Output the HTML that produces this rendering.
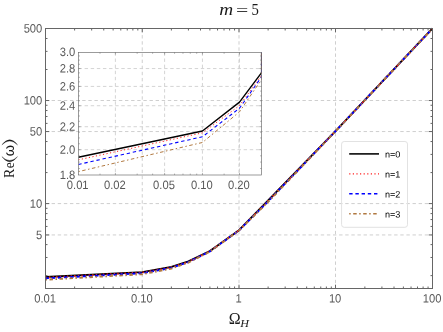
<!DOCTYPE html>
<html><head><meta charset="utf-8"><title>plot</title><style>html,body{margin:0;padding:0;background:#fff;overflow:hidden}body{width:443px;height:332px;position:relative}</style></head><body>
<svg width="443" height="332" viewBox="0 0 443 332" style="position:absolute;left:0;top:0;will-change:transform">
<rect width="443" height="332" fill="#fff"/>
<g stroke="#cfcfcf" stroke-width="1" stroke-dasharray="3.4 2.717" fill="none">
<line x1="142.25" y1="29.0" x2="142.25" y2="288.5"/>
<line x1="239.00" y1="29.0" x2="239.00" y2="288.5"/>
<line x1="335.50" y1="29.0" x2="335.50" y2="288.5"/>
<line x1="45.5" y1="234.95" x2="432.5" y2="234.95"/>
<line x1="45.5" y1="203.59" x2="432.5" y2="203.59"/>
<line x1="45.5" y1="131.56" x2="432.5" y2="131.56"/>
<line x1="45.5" y1="100.53" x2="432.5" y2="100.53"/>
</g>
<g stroke="#cfcfcf" stroke-width="0.9" stroke-dasharray="3.4 2.717" fill="none">
<line x1="115.40" y1="52.4" x2="115.40" y2="175.0"/>
<line x1="164.60" y1="52.4" x2="164.60" y2="175.0"/>
<line x1="202.45" y1="52.4" x2="202.45" y2="175.0"/>
<line x1="239.50" y1="52.4" x2="239.50" y2="175.0"/>
<line x1="78.5" y1="149.70" x2="261.5" y2="149.70"/>
<line x1="78.5" y1="126.71" x2="261.5" y2="126.71"/>
<line x1="78.5" y1="105.72" x2="261.5" y2="105.72"/>
<line x1="78.5" y1="86.42" x2="261.5" y2="86.42"/>
<line x1="78.5" y1="68.54" x2="261.5" y2="68.54"/>
</g>
<clipPath id="cm"><rect x="45.5" y="27.5" width="387.5" height="261.0"/></clipPath>
<g clip-path="url(#cm)" fill="none" stroke-linejoin="round">
<polyline points="45.50,277.02 142.25,272.16 171.37,266.79 188.41,261.34 209.88,250.96 239.00,230.19 268.12,200.35 335.50,131.11 432.50,28.50" stroke="#000000" stroke-width="1.85"/>
<polyline points="45.50,277.51 142.25,272.49 171.37,267.43 188.41,261.83 209.88,251.22 239.00,230.27 268.12,200.90 335.50,131.20 432.50,28.50" stroke="#ff2020" stroke-width="1.85" stroke-dasharray="1.2 2.4"/>
<polyline points="45.50,278.36 142.25,273.23 171.37,267.93 188.41,262.11 209.88,251.48 239.00,230.35 268.12,201.41 335.50,131.20 432.50,28.50" stroke="#0000ff" stroke-width="1.85" stroke-dasharray="3.4 2.8"/>
<polyline points="45.50,279.70 142.25,274.28 171.37,268.60 188.41,262.58 209.88,251.74 239.00,230.43 268.12,201.92 335.50,131.29 432.50,28.50" stroke="#b07840" stroke-width="1.85" stroke-dasharray="1.5 2.5 3.5 2.5"/>
</g>
<clipPath id="ci"><rect x="78.5" y="52.4" width="183.0" height="122.6"/></clipPath>
<g clip-path="url(#ci)" fill="none" stroke-linejoin="round">
<polyline points="78.30,157.24 202.45,131.02 239.50,102.10 261.60,72.71 261.60,16.80" stroke="#000000" stroke-width="1.4"/>
<polyline points="78.30,159.85 202.45,132.83 239.50,105.55 261.60,75.36 261.60,18.19" stroke="#ff2020" stroke-width="1.0" stroke-dasharray="1.2 2.4"/>
<polyline points="78.30,164.46 202.45,136.77 239.50,108.25 261.60,76.87 261.60,19.59" stroke="#0000ff" stroke-width="1.1" stroke-dasharray="3.4 2.8"/>
<polyline points="78.30,171.65 202.45,142.47 239.50,111.83 261.60,79.38 261.60,21.00" stroke="#b07840" stroke-width="1.0" stroke-dasharray="1.5 2.5 3.5 2.5"/>
</g>
<g stroke="#666666" stroke-width="1" fill="none">
<rect x="45.5" y="28.5" width="387.0" height="260.0"/>
<line x1="74.62" y1="288.5" x2="74.62" y2="286.5"/>
<line x1="74.62" y1="28.5" x2="74.62" y2="30.5"/>
<line x1="91.66" y1="288.5" x2="91.66" y2="286.5"/>
<line x1="91.66" y1="28.5" x2="91.66" y2="30.5"/>
<line x1="103.75" y1="288.5" x2="103.75" y2="286.5"/>
<line x1="103.75" y1="28.5" x2="103.75" y2="30.5"/>
<line x1="113.13" y1="288.5" x2="113.13" y2="286.5"/>
<line x1="113.13" y1="28.5" x2="113.13" y2="30.5"/>
<line x1="120.79" y1="288.5" x2="120.79" y2="286.5"/>
<line x1="120.79" y1="28.5" x2="120.79" y2="30.5"/>
<line x1="127.26" y1="288.5" x2="127.26" y2="286.5"/>
<line x1="127.26" y1="28.5" x2="127.26" y2="30.5"/>
<line x1="132.87" y1="288.5" x2="132.87" y2="286.5"/>
<line x1="132.87" y1="28.5" x2="132.87" y2="30.5"/>
<line x1="137.82" y1="288.5" x2="137.82" y2="286.5"/>
<line x1="137.82" y1="28.5" x2="137.82" y2="30.5"/>
<line x1="142.25" y1="288.5" x2="142.25" y2="284.7"/>
<line x1="142.25" y1="28.5" x2="142.25" y2="32.3"/>
<line x1="171.37" y1="288.5" x2="171.37" y2="286.5"/>
<line x1="171.37" y1="28.5" x2="171.37" y2="30.5"/>
<line x1="188.41" y1="288.5" x2="188.41" y2="286.5"/>
<line x1="188.41" y1="28.5" x2="188.41" y2="30.5"/>
<line x1="200.50" y1="288.5" x2="200.50" y2="286.5"/>
<line x1="200.50" y1="28.5" x2="200.50" y2="30.5"/>
<line x1="209.88" y1="288.5" x2="209.88" y2="286.5"/>
<line x1="209.88" y1="28.5" x2="209.88" y2="30.5"/>
<line x1="217.54" y1="288.5" x2="217.54" y2="286.5"/>
<line x1="217.54" y1="28.5" x2="217.54" y2="30.5"/>
<line x1="224.01" y1="288.5" x2="224.01" y2="286.5"/>
<line x1="224.01" y1="28.5" x2="224.01" y2="30.5"/>
<line x1="229.62" y1="288.5" x2="229.62" y2="286.5"/>
<line x1="229.62" y1="28.5" x2="229.62" y2="30.5"/>
<line x1="234.57" y1="288.5" x2="234.57" y2="286.5"/>
<line x1="234.57" y1="28.5" x2="234.57" y2="30.5"/>
<line x1="239.00" y1="288.5" x2="239.00" y2="284.7"/>
<line x1="239.00" y1="28.5" x2="239.00" y2="32.3"/>
<line x1="268.12" y1="288.5" x2="268.12" y2="286.5"/>
<line x1="268.12" y1="28.5" x2="268.12" y2="30.5"/>
<line x1="285.16" y1="288.5" x2="285.16" y2="286.5"/>
<line x1="285.16" y1="28.5" x2="285.16" y2="30.5"/>
<line x1="297.25" y1="288.5" x2="297.25" y2="286.5"/>
<line x1="297.25" y1="28.5" x2="297.25" y2="30.5"/>
<line x1="306.63" y1="288.5" x2="306.63" y2="286.5"/>
<line x1="306.63" y1="28.5" x2="306.63" y2="30.5"/>
<line x1="314.29" y1="288.5" x2="314.29" y2="286.5"/>
<line x1="314.29" y1="28.5" x2="314.29" y2="30.5"/>
<line x1="320.76" y1="288.5" x2="320.76" y2="286.5"/>
<line x1="320.76" y1="28.5" x2="320.76" y2="30.5"/>
<line x1="326.37" y1="288.5" x2="326.37" y2="286.5"/>
<line x1="326.37" y1="28.5" x2="326.37" y2="30.5"/>
<line x1="331.32" y1="288.5" x2="331.32" y2="286.5"/>
<line x1="331.32" y1="28.5" x2="331.32" y2="30.5"/>
<line x1="335.50" y1="288.5" x2="335.50" y2="284.7"/>
<line x1="335.50" y1="28.5" x2="335.50" y2="32.3"/>
<line x1="364.87" y1="288.5" x2="364.87" y2="286.5"/>
<line x1="364.87" y1="28.5" x2="364.87" y2="30.5"/>
<line x1="381.91" y1="288.5" x2="381.91" y2="286.5"/>
<line x1="381.91" y1="28.5" x2="381.91" y2="30.5"/>
<line x1="394.00" y1="288.5" x2="394.00" y2="286.5"/>
<line x1="394.00" y1="28.5" x2="394.00" y2="30.5"/>
<line x1="403.38" y1="288.5" x2="403.38" y2="286.5"/>
<line x1="403.38" y1="28.5" x2="403.38" y2="30.5"/>
<line x1="411.04" y1="288.5" x2="411.04" y2="286.5"/>
<line x1="411.04" y1="28.5" x2="411.04" y2="30.5"/>
<line x1="417.51" y1="288.5" x2="417.51" y2="286.5"/>
<line x1="417.51" y1="28.5" x2="417.51" y2="30.5"/>
<line x1="423.12" y1="288.5" x2="423.12" y2="286.5"/>
<line x1="423.12" y1="28.5" x2="423.12" y2="30.5"/>
<line x1="428.07" y1="288.5" x2="428.07" y2="286.5"/>
<line x1="428.07" y1="28.5" x2="428.07" y2="30.5"/>
<line x1="45.5" y1="275.62" x2="47.5" y2="275.62"/>
<line x1="432.5" y1="275.62" x2="430.5" y2="275.62"/>
<line x1="45.5" y1="257.48" x2="47.5" y2="257.48"/>
<line x1="432.5" y1="257.48" x2="430.5" y2="257.48"/>
<line x1="45.5" y1="244.60" x2="47.5" y2="244.60"/>
<line x1="432.5" y1="244.60" x2="430.5" y2="244.60"/>
<line x1="45.5" y1="234.95" x2="49.3" y2="234.95"/>
<line x1="432.5" y1="234.95" x2="428.7" y2="234.95"/>
<line x1="45.5" y1="226.45" x2="47.5" y2="226.45"/>
<line x1="432.5" y1="226.45" x2="430.5" y2="226.45"/>
<line x1="45.5" y1="219.55" x2="47.5" y2="219.55"/>
<line x1="432.5" y1="219.55" x2="430.5" y2="219.55"/>
<line x1="45.5" y1="213.58" x2="47.5" y2="213.58"/>
<line x1="432.5" y1="213.58" x2="430.5" y2="213.58"/>
<line x1="45.5" y1="208.31" x2="47.5" y2="208.31"/>
<line x1="432.5" y1="208.31" x2="430.5" y2="208.31"/>
<line x1="45.5" y1="203.59" x2="49.3" y2="203.59"/>
<line x1="432.5" y1="203.59" x2="428.7" y2="203.59"/>
<line x1="45.5" y1="172.57" x2="47.5" y2="172.57"/>
<line x1="432.5" y1="172.57" x2="430.5" y2="172.57"/>
<line x1="45.5" y1="154.42" x2="47.5" y2="154.42"/>
<line x1="432.5" y1="154.42" x2="430.5" y2="154.42"/>
<line x1="45.5" y1="141.54" x2="47.5" y2="141.54"/>
<line x1="432.5" y1="141.54" x2="430.5" y2="141.54"/>
<line x1="45.5" y1="131.56" x2="49.3" y2="131.56"/>
<line x1="432.5" y1="131.56" x2="428.7" y2="131.56"/>
<line x1="45.5" y1="123.40" x2="47.5" y2="123.40"/>
<line x1="432.5" y1="123.40" x2="430.5" y2="123.40"/>
<line x1="45.5" y1="116.50" x2="47.5" y2="116.50"/>
<line x1="432.5" y1="116.50" x2="430.5" y2="116.50"/>
<line x1="45.5" y1="110.52" x2="47.5" y2="110.52"/>
<line x1="432.5" y1="110.52" x2="430.5" y2="110.52"/>
<line x1="45.5" y1="105.25" x2="47.5" y2="105.25"/>
<line x1="432.5" y1="105.25" x2="430.5" y2="105.25"/>
<line x1="45.5" y1="100.53" x2="49.3" y2="100.53"/>
<line x1="432.5" y1="100.53" x2="428.7" y2="100.53"/>
<line x1="45.5" y1="69.51" x2="47.5" y2="69.51"/>
<line x1="432.5" y1="69.51" x2="430.5" y2="69.51"/>
<line x1="45.5" y1="51.36" x2="47.5" y2="51.36"/>
<line x1="432.5" y1="51.36" x2="430.5" y2="51.36"/>
<line x1="45.5" y1="38.49" x2="47.5" y2="38.49"/>
<line x1="432.5" y1="38.49" x2="430.5" y2="38.49"/>
</g>
<g stroke="#666666" stroke-width="0.65" fill="none">
<rect x="78.5" y="52.4" width="183.0" height="122.6"/>
</g>
<g stroke="#666666" stroke-width="0.5" fill="none">
<line x1="100.00" y1="175.0" x2="100.00" y2="173.6"/>
<line x1="100.00" y1="52.4" x2="100.00" y2="53.8"/>
<line x1="115.40" y1="175.0" x2="115.40" y2="172.9"/>
<line x1="115.40" y1="52.4" x2="115.40" y2="54.5"/>
<line x1="137.17" y1="175.0" x2="137.17" y2="173.6"/>
<line x1="137.17" y1="52.4" x2="137.17" y2="53.8"/>
<line x1="152.62" y1="175.0" x2="152.62" y2="173.6"/>
<line x1="152.62" y1="52.4" x2="152.62" y2="53.8"/>
<line x1="164.60" y1="175.0" x2="164.60" y2="172.9"/>
<line x1="164.60" y1="52.4" x2="164.60" y2="54.5"/>
<line x1="174.56" y1="175.0" x2="174.56" y2="173.6"/>
<line x1="174.56" y1="52.4" x2="174.56" y2="53.8"/>
<line x1="182.97" y1="175.0" x2="182.97" y2="173.6"/>
<line x1="182.97" y1="52.4" x2="182.97" y2="53.8"/>
<line x1="190.27" y1="175.0" x2="190.27" y2="173.6"/>
<line x1="190.27" y1="52.4" x2="190.27" y2="53.8"/>
<line x1="196.70" y1="175.0" x2="196.70" y2="173.6"/>
<line x1="196.70" y1="52.4" x2="196.70" y2="53.8"/>
<line x1="202.45" y1="175.0" x2="202.45" y2="172.9"/>
<line x1="202.45" y1="52.4" x2="202.45" y2="54.5"/>
<line x1="224.12" y1="175.0" x2="224.12" y2="173.6"/>
<line x1="224.12" y1="52.4" x2="224.12" y2="53.8"/>
<line x1="239.50" y1="175.0" x2="239.50" y2="172.9"/>
<line x1="239.50" y1="52.4" x2="239.50" y2="54.5"/>
<line x1="78.5" y1="168.50" x2="79.9" y2="168.50"/>
<line x1="261.5" y1="168.50" x2="260.1" y2="168.50"/>
<line x1="78.5" y1="162.07" x2="79.9" y2="162.07"/>
<line x1="261.5" y1="162.07" x2="260.1" y2="162.07"/>
<line x1="78.5" y1="155.80" x2="79.9" y2="155.80"/>
<line x1="261.5" y1="155.80" x2="260.1" y2="155.80"/>
<line x1="78.5" y1="149.70" x2="80.6" y2="149.70"/>
<line x1="261.5" y1="149.70" x2="259.4" y2="149.70"/>
<line x1="78.5" y1="143.74" x2="79.9" y2="143.74"/>
<line x1="261.5" y1="143.74" x2="260.1" y2="143.74"/>
<line x1="78.5" y1="137.93" x2="79.9" y2="137.93"/>
<line x1="261.5" y1="137.93" x2="260.1" y2="137.93"/>
<line x1="78.5" y1="132.25" x2="79.9" y2="132.25"/>
<line x1="261.5" y1="132.25" x2="260.1" y2="132.25"/>
<line x1="78.5" y1="126.71" x2="80.6" y2="126.71"/>
<line x1="261.5" y1="126.71" x2="259.4" y2="126.71"/>
<line x1="78.5" y1="121.29" x2="79.9" y2="121.29"/>
<line x1="261.5" y1="121.29" x2="260.1" y2="121.29"/>
<line x1="78.5" y1="115.99" x2="79.9" y2="115.99"/>
<line x1="261.5" y1="115.99" x2="260.1" y2="115.99"/>
<line x1="78.5" y1="110.80" x2="79.9" y2="110.80"/>
<line x1="261.5" y1="110.80" x2="260.1" y2="110.80"/>
<line x1="78.5" y1="105.72" x2="80.6" y2="105.72"/>
<line x1="261.5" y1="105.72" x2="259.4" y2="105.72"/>
<line x1="78.5" y1="100.75" x2="79.9" y2="100.75"/>
<line x1="261.5" y1="100.75" x2="260.1" y2="100.75"/>
<line x1="78.5" y1="95.88" x2="79.9" y2="95.88"/>
<line x1="261.5" y1="95.88" x2="260.1" y2="95.88"/>
<line x1="78.5" y1="91.10" x2="79.9" y2="91.10"/>
<line x1="261.5" y1="91.10" x2="260.1" y2="91.10"/>
<line x1="78.5" y1="86.42" x2="80.6" y2="86.42"/>
<line x1="261.5" y1="86.42" x2="259.4" y2="86.42"/>
<line x1="78.5" y1="81.82" x2="79.9" y2="81.82"/>
<line x1="261.5" y1="81.82" x2="260.1" y2="81.82"/>
<line x1="78.5" y1="77.31" x2="79.9" y2="77.31"/>
<line x1="261.5" y1="77.31" x2="260.1" y2="77.31"/>
<line x1="78.5" y1="72.89" x2="79.9" y2="72.89"/>
<line x1="261.5" y1="72.89" x2="260.1" y2="72.89"/>
<line x1="78.5" y1="68.54" x2="80.6" y2="68.54"/>
<line x1="261.5" y1="68.54" x2="259.4" y2="68.54"/>
<line x1="78.5" y1="64.27" x2="79.9" y2="64.27"/>
<line x1="261.5" y1="64.27" x2="260.1" y2="64.27"/>
<line x1="78.5" y1="60.08" x2="79.9" y2="60.08"/>
<line x1="261.5" y1="60.08" x2="260.1" y2="60.08"/>
<line x1="78.5" y1="55.95" x2="79.9" y2="55.95"/>
<line x1="261.5" y1="55.95" x2="260.1" y2="55.95"/>
</g>
<g font-family="Liberation Sans, sans-serif" font-size="12.1" fill="#585858" text-rendering="geometricPrecision">
<text transform="translate(45.10,302.50) scale(0.925,1) rotate(0.05)" text-anchor="middle">0.01</text>
<text transform="translate(141.85,302.50) scale(0.925,1) rotate(0.05)" text-anchor="middle">0.10</text>
<text transform="translate(238.60,302.50) scale(0.925,1) rotate(0.05)" text-anchor="middle">1</text>
<text transform="translate(335.10,302.50) scale(0.925,1) rotate(0.05)" text-anchor="middle">10</text>
<text transform="translate(432.10,302.50) scale(0.925,1) rotate(0.05)" text-anchor="middle">100</text>
<text transform="translate(42.30,239.00) scale(0.925,1) rotate(0.05)" text-anchor="end">5</text>
<text transform="translate(42.30,207.64) scale(0.925,1) rotate(0.05)" text-anchor="end">10</text>
<text transform="translate(42.30,135.61) scale(0.925,1) rotate(0.05)" text-anchor="end">50</text>
<text transform="translate(42.30,104.58) scale(0.925,1) rotate(0.05)" text-anchor="end">100</text>
<text transform="translate(42.30,32.55) scale(0.925,1) rotate(0.05)" text-anchor="end">500</text>
<text transform="translate(77.70,189.10) scale(0.925,1) rotate(0.05)" text-anchor="middle">0.01</text>
<text transform="translate(114.80,189.10) scale(0.925,1) rotate(0.05)" text-anchor="middle">0.02</text>
<text transform="translate(164.00,189.10) scale(0.925,1) rotate(0.05)" text-anchor="middle">0.05</text>
<text transform="translate(201.85,189.10) scale(0.925,1) rotate(0.05)" text-anchor="middle">0.10</text>
<text transform="translate(238.90,189.10) scale(0.925,1) rotate(0.05)" text-anchor="middle">0.20</text>
<text transform="translate(75.30,179.11) scale(0.925,1) rotate(0.05)" text-anchor="end">1.8</text>
<text transform="translate(75.30,153.70) scale(0.925,1) rotate(0.05)" text-anchor="end">2.0</text>
<text transform="translate(75.30,130.71) scale(0.925,1) rotate(0.05)" text-anchor="end">2.2</text>
<text transform="translate(75.30,109.72) scale(0.925,1) rotate(0.05)" text-anchor="end">2.4</text>
<text transform="translate(75.30,90.42) scale(0.925,1) rotate(0.05)" text-anchor="end">2.6</text>
<text transform="translate(75.30,72.54) scale(0.925,1) rotate(0.05)" text-anchor="end">2.8</text>
<text transform="translate(75.30,55.90) scale(0.925,1) rotate(0.05)" text-anchor="end">3.0</text>
</g>
<rect x="341.6" y="141.5" width="65.9" height="85.8" rx="2.6" ry="2.6" fill="none" stroke="#e2e2e2" stroke-width="1"/>
<line x1="349.2" y1="153.9" x2="379" y2="153.9" stroke="#000000" stroke-width="1.55"/>
<line x1="349.2" y1="173.8" x2="379" y2="173.8" stroke="#ff2020" stroke-width="1.2" stroke-dasharray="1.2 2.4"/>
<line x1="349.2" y1="193.7" x2="379" y2="193.7" stroke="#0000ff" stroke-width="1.6" stroke-dasharray="3.4 2.8"/>
<line x1="349.2" y1="213.8" x2="379" y2="213.8" stroke="#b07840" stroke-width="1.4" stroke-dasharray="1.5 2.5 3.5 2.5"/>
<g font-family="Liberation Sans, sans-serif" font-size="9.1" fill="#000">
<text transform="translate(384.9,157.60) rotate(0.05)">n=0</text>
<text transform="translate(384.9,177.50) rotate(0.05)">n=1</text>
<text transform="translate(384.9,197.40) rotate(0.05)">n=2</text>
<text transform="translate(384.9,217.50) rotate(0.05)">n=3</text>
</g>
<g font-family="Liberation Serif, serif" fill="#1a1a1a">
<text transform="translate(219.2,14.6) scale(1.17,1)" font-size="16.5" font-style="italic">m</text>
<text transform="translate(235.9,16.2) scale(1.32,1)" font-size="16.5" fill="#3a3a3a">=</text>
<text transform="translate(251.6,14.7) scale(0.92,1)" font-size="16">5</text>
<text x="228.7" y="324.3" font-size="16">Ω</text>
<text transform="translate(240.2,327) scale(1.1,1)" font-size="11" font-style="italic">H</text>
<g transform="translate(13.6,177.6) rotate(-90)">
<text transform="translate(-0.3,0) scale(0.91,1)" font-size="15.3">R</text>
<text transform="translate(9.3,0) scale(0.89,1)" font-size="15.3">e</text>
<text transform="translate(21.3,-0.1) scale(1.0,1)" font-family="Liberation Sans, sans-serif" font-size="14.4">ω</text>
<path d="M20.9,-11.7 Q11.0,-3.9 20.9,3.9 Q13.3,-3.9 20.9,-11.7Z" stroke="#1a1a1a" stroke-width="0.35"/>
<path d="M32.8,-11.7 Q42.7,-3.9 32.8,3.9 Q40.4,-3.9 32.8,-11.7Z" stroke="#1a1a1a" stroke-width="0.35"/>
</g>
</g>
</svg>
</body></html>
